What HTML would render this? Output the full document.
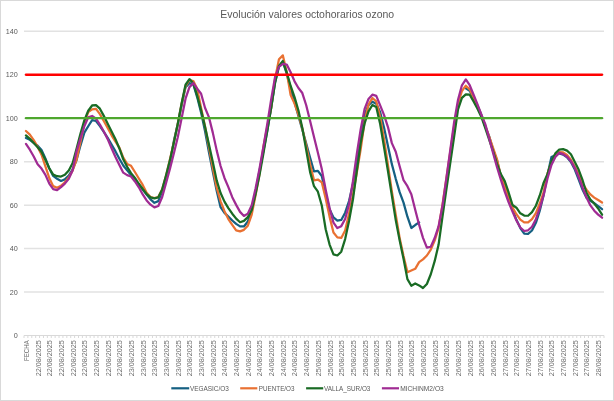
<!DOCTYPE html>
<html><head><meta charset="utf-8"><style>
html,body{margin:0;padding:0;background:#fff;}
svg{display:block;font-family:"Liberation Sans", sans-serif;}
text{filter:grayscale(1);}
</style></head><body>
<svg width="614" height="401" viewBox="0 0 614 401">
<rect x="0.5" y="0.5" width="613" height="400" fill="#fff" stroke="#d9d9d9" stroke-width="1"/>
<text x="220.3" y="17.8" font-size="10.4" textLength="173.8" lengthAdjust="spacingAndGlyphs" fill="#595959">Evolución valores octohorarios ozono</text>
<line x1="24.0" y1="292.04" x2="604.0" y2="292.04" stroke="#e2e2e2" stroke-width="1.5"/>
<line x1="24.0" y1="248.59" x2="604.0" y2="248.59" stroke="#e2e2e2" stroke-width="1.5"/>
<line x1="24.0" y1="205.13" x2="604.0" y2="205.13" stroke="#e2e2e2" stroke-width="1.5"/>
<line x1="24.0" y1="161.67" x2="604.0" y2="161.67" stroke="#e2e2e2" stroke-width="1.5"/>
<line x1="24.0" y1="118.21" x2="604.0" y2="118.21" stroke="#e2e2e2" stroke-width="1.5"/>
<line x1="24.0" y1="74.76" x2="604.0" y2="74.76" stroke="#e2e2e2" stroke-width="1.5"/>
<line x1="24.0" y1="31.3" x2="604.0" y2="31.3" stroke="#e2e2e2" stroke-width="1.5"/>
<text x="17.8" y="338.1" font-size="7.2" text-anchor="end" fill="#595959">0</text>
<text x="17.8" y="294.6" font-size="7.2" text-anchor="end" fill="#595959">20</text>
<text x="17.8" y="251.2" font-size="7.2" text-anchor="end" fill="#595959">40</text>
<text x="17.8" y="207.7" font-size="7.2" text-anchor="end" fill="#595959">60</text>
<text x="17.8" y="164.3" font-size="7.2" text-anchor="end" fill="#595959">80</text>
<text x="17.8" y="120.8" font-size="7.2" text-anchor="end" fill="#595959">100</text>
<text x="17.8" y="77.4" font-size="7.2" text-anchor="end" fill="#595959">120</text>
<text x="17.8" y="33.9" font-size="7.2" text-anchor="end" fill="#595959">140</text>
<line x1="24.0" y1="335.5" x2="604.0" y2="335.5" stroke="#d9d9d9" stroke-width="1"/>
<path d="M24.00 335.5v2.5 M27.89 335.5v2.5 M31.79 335.5v2.5 M35.68 335.5v2.5 M39.57 335.5v2.5 M43.46 335.5v2.5 M47.36 335.5v2.5 M51.25 335.5v2.5 M55.14 335.5v2.5 M59.03 335.5v2.5 M62.93 335.5v2.5 M66.82 335.5v2.5 M70.71 335.5v2.5 M74.60 335.5v2.5 M78.50 335.5v2.5 M82.39 335.5v2.5 M86.28 335.5v2.5 M90.17 335.5v2.5 M94.07 335.5v2.5 M97.96 335.5v2.5 M101.85 335.5v2.5 M105.74 335.5v2.5 M109.64 335.5v2.5 M113.53 335.5v2.5 M117.42 335.5v2.5 M121.32 335.5v2.5 M125.21 335.5v2.5 M129.10 335.5v2.5 M132.99 335.5v2.5 M136.89 335.5v2.5 M140.78 335.5v2.5 M144.67 335.5v2.5 M148.56 335.5v2.5 M152.46 335.5v2.5 M156.35 335.5v2.5 M160.24 335.5v2.5 M164.13 335.5v2.5 M168.03 335.5v2.5 M171.92 335.5v2.5 M175.81 335.5v2.5 M179.70 335.5v2.5 M183.60 335.5v2.5 M187.49 335.5v2.5 M191.38 335.5v2.5 M195.28 335.5v2.5 M199.17 335.5v2.5 M203.06 335.5v2.5 M206.95 335.5v2.5 M210.85 335.5v2.5 M214.74 335.5v2.5 M218.63 335.5v2.5 M222.52 335.5v2.5 M226.42 335.5v2.5 M230.31 335.5v2.5 M234.20 335.5v2.5 M238.09 335.5v2.5 M241.99 335.5v2.5 M245.88 335.5v2.5 M249.77 335.5v2.5 M253.66 335.5v2.5 M257.56 335.5v2.5 M261.45 335.5v2.5 M265.34 335.5v2.5 M269.23 335.5v2.5 M273.13 335.5v2.5 M277.02 335.5v2.5 M280.91 335.5v2.5 M284.81 335.5v2.5 M288.70 335.5v2.5 M292.59 335.5v2.5 M296.48 335.5v2.5 M300.38 335.5v2.5 M304.27 335.5v2.5 M308.16 335.5v2.5 M312.05 335.5v2.5 M315.95 335.5v2.5 M319.84 335.5v2.5 M323.73 335.5v2.5 M327.62 335.5v2.5 M331.52 335.5v2.5 M335.41 335.5v2.5 M339.30 335.5v2.5 M343.19 335.5v2.5 M347.09 335.5v2.5 M350.98 335.5v2.5 M354.87 335.5v2.5 M358.77 335.5v2.5 M362.66 335.5v2.5 M366.55 335.5v2.5 M370.44 335.5v2.5 M374.34 335.5v2.5 M378.23 335.5v2.5 M382.12 335.5v2.5 M386.01 335.5v2.5 M389.91 335.5v2.5 M393.80 335.5v2.5 M397.69 335.5v2.5 M401.58 335.5v2.5 M405.48 335.5v2.5 M409.37 335.5v2.5 M413.26 335.5v2.5 M417.15 335.5v2.5 M421.05 335.5v2.5 M424.94 335.5v2.5 M428.83 335.5v2.5 M432.72 335.5v2.5 M436.62 335.5v2.5 M440.51 335.5v2.5 M444.40 335.5v2.5 M448.30 335.5v2.5 M452.19 335.5v2.5 M456.08 335.5v2.5 M459.97 335.5v2.5 M463.87 335.5v2.5 M467.76 335.5v2.5 M471.65 335.5v2.5 M475.54 335.5v2.5 M479.44 335.5v2.5 M483.33 335.5v2.5 M487.22 335.5v2.5 M491.11 335.5v2.5 M495.01 335.5v2.5 M498.90 335.5v2.5 M502.79 335.5v2.5 M506.68 335.5v2.5 M510.58 335.5v2.5 M514.47 335.5v2.5 M518.36 335.5v2.5 M522.26 335.5v2.5 M526.15 335.5v2.5 M530.04 335.5v2.5 M533.93 335.5v2.5 M537.83 335.5v2.5 M541.72 335.5v2.5 M545.61 335.5v2.5 M549.50 335.5v2.5 M553.40 335.5v2.5 M557.29 335.5v2.5 M561.18 335.5v2.5 M565.07 335.5v2.5 M568.97 335.5v2.5 M572.86 335.5v2.5 M576.75 335.5v2.5 M580.64 335.5v2.5 M584.54 335.5v2.5 M588.43 335.5v2.5 M592.32 335.5v2.5 M596.21 335.5v2.5 M600.11 335.5v2.5 M604.00 335.5v2.5" stroke="#d9d9d9" stroke-width="1" fill="none"/>
<text transform="translate(28.90,340.3) rotate(-90)" font-size="7.5" text-anchor="end" textLength="20.6" lengthAdjust="spacingAndGlyphs" fill="#6e6e6e">FECHA</text>
<text transform="translate(40.57,340.3) rotate(-90)" font-size="7.5" text-anchor="end" textLength="35.9" lengthAdjust="spacingAndGlyphs" fill="#6e6e6e">22/08/2025</text>
<text transform="translate(52.25,340.3) rotate(-90)" font-size="7.5" text-anchor="end" textLength="35.9" lengthAdjust="spacingAndGlyphs" fill="#6e6e6e">22/08/2025</text>
<text transform="translate(63.93,340.3) rotate(-90)" font-size="7.5" text-anchor="end" textLength="35.9" lengthAdjust="spacingAndGlyphs" fill="#6e6e6e">22/08/2025</text>
<text transform="translate(75.61,340.3) rotate(-90)" font-size="7.5" text-anchor="end" textLength="35.9" lengthAdjust="spacingAndGlyphs" fill="#6e6e6e">22/08/2025</text>
<text transform="translate(87.29,340.3) rotate(-90)" font-size="7.5" text-anchor="end" textLength="35.9" lengthAdjust="spacingAndGlyphs" fill="#6e6e6e">22/08/2025</text>
<text transform="translate(98.96,340.3) rotate(-90)" font-size="7.5" text-anchor="end" textLength="35.9" lengthAdjust="spacingAndGlyphs" fill="#6e6e6e">22/08/2025</text>
<text transform="translate(110.64,340.3) rotate(-90)" font-size="7.5" text-anchor="end" textLength="35.9" lengthAdjust="spacingAndGlyphs" fill="#6e6e6e">22/08/2025</text>
<text transform="translate(122.32,340.3) rotate(-90)" font-size="7.5" text-anchor="end" textLength="35.9" lengthAdjust="spacingAndGlyphs" fill="#6e6e6e">22/08/2025</text>
<text transform="translate(134.00,340.3) rotate(-90)" font-size="7.5" text-anchor="end" textLength="35.9" lengthAdjust="spacingAndGlyphs" fill="#6e6e6e">23/08/2025</text>
<text transform="translate(145.67,340.3) rotate(-90)" font-size="7.5" text-anchor="end" textLength="35.9" lengthAdjust="spacingAndGlyphs" fill="#6e6e6e">23/08/2025</text>
<text transform="translate(157.35,340.3) rotate(-90)" font-size="7.5" text-anchor="end" textLength="35.9" lengthAdjust="spacingAndGlyphs" fill="#6e6e6e">23/08/2025</text>
<text transform="translate(169.03,340.3) rotate(-90)" font-size="7.5" text-anchor="end" textLength="35.9" lengthAdjust="spacingAndGlyphs" fill="#6e6e6e">23/08/2025</text>
<text transform="translate(180.71,340.3) rotate(-90)" font-size="7.5" text-anchor="end" textLength="35.9" lengthAdjust="spacingAndGlyphs" fill="#6e6e6e">23/08/2025</text>
<text transform="translate(192.39,340.3) rotate(-90)" font-size="7.5" text-anchor="end" textLength="35.9" lengthAdjust="spacingAndGlyphs" fill="#6e6e6e">23/08/2025</text>
<text transform="translate(204.06,340.3) rotate(-90)" font-size="7.5" text-anchor="end" textLength="35.9" lengthAdjust="spacingAndGlyphs" fill="#6e6e6e">23/08/2025</text>
<text transform="translate(215.74,340.3) rotate(-90)" font-size="7.5" text-anchor="end" textLength="35.9" lengthAdjust="spacingAndGlyphs" fill="#6e6e6e">23/08/2025</text>
<text transform="translate(227.42,340.3) rotate(-90)" font-size="7.5" text-anchor="end" textLength="35.9" lengthAdjust="spacingAndGlyphs" fill="#6e6e6e">24/08/2025</text>
<text transform="translate(239.10,340.3) rotate(-90)" font-size="7.5" text-anchor="end" textLength="35.9" lengthAdjust="spacingAndGlyphs" fill="#6e6e6e">24/08/2025</text>
<text transform="translate(250.78,340.3) rotate(-90)" font-size="7.5" text-anchor="end" textLength="35.9" lengthAdjust="spacingAndGlyphs" fill="#6e6e6e">24/08/2025</text>
<text transform="translate(262.45,340.3) rotate(-90)" font-size="7.5" text-anchor="end" textLength="35.9" lengthAdjust="spacingAndGlyphs" fill="#6e6e6e">24/08/2025</text>
<text transform="translate(274.13,340.3) rotate(-90)" font-size="7.5" text-anchor="end" textLength="35.9" lengthAdjust="spacingAndGlyphs" fill="#6e6e6e">24/08/2025</text>
<text transform="translate(285.81,340.3) rotate(-90)" font-size="7.5" text-anchor="end" textLength="35.9" lengthAdjust="spacingAndGlyphs" fill="#6e6e6e">24/08/2025</text>
<text transform="translate(297.49,340.3) rotate(-90)" font-size="7.5" text-anchor="end" textLength="35.9" lengthAdjust="spacingAndGlyphs" fill="#6e6e6e">24/08/2025</text>
<text transform="translate(309.16,340.3) rotate(-90)" font-size="7.5" text-anchor="end" textLength="35.9" lengthAdjust="spacingAndGlyphs" fill="#6e6e6e">24/08/2025</text>
<text transform="translate(320.84,340.3) rotate(-90)" font-size="7.5" text-anchor="end" textLength="35.9" lengthAdjust="spacingAndGlyphs" fill="#6e6e6e">25/08/2025</text>
<text transform="translate(332.52,340.3) rotate(-90)" font-size="7.5" text-anchor="end" textLength="35.9" lengthAdjust="spacingAndGlyphs" fill="#6e6e6e">25/08/2025</text>
<text transform="translate(344.20,340.3) rotate(-90)" font-size="7.5" text-anchor="end" textLength="35.9" lengthAdjust="spacingAndGlyphs" fill="#6e6e6e">25/08/2025</text>
<text transform="translate(355.88,340.3) rotate(-90)" font-size="7.5" text-anchor="end" textLength="35.9" lengthAdjust="spacingAndGlyphs" fill="#6e6e6e">25/08/2025</text>
<text transform="translate(367.55,340.3) rotate(-90)" font-size="7.5" text-anchor="end" textLength="35.9" lengthAdjust="spacingAndGlyphs" fill="#6e6e6e">25/08/2025</text>
<text transform="translate(379.23,340.3) rotate(-90)" font-size="7.5" text-anchor="end" textLength="35.9" lengthAdjust="spacingAndGlyphs" fill="#6e6e6e">25/08/2025</text>
<text transform="translate(390.91,340.3) rotate(-90)" font-size="7.5" text-anchor="end" textLength="35.9" lengthAdjust="spacingAndGlyphs" fill="#6e6e6e">25/08/2025</text>
<text transform="translate(402.59,340.3) rotate(-90)" font-size="7.5" text-anchor="end" textLength="35.9" lengthAdjust="spacingAndGlyphs" fill="#6e6e6e">25/08/2025</text>
<text transform="translate(414.27,340.3) rotate(-90)" font-size="7.5" text-anchor="end" textLength="35.9" lengthAdjust="spacingAndGlyphs" fill="#6e6e6e">26/08/2025</text>
<text transform="translate(425.94,340.3) rotate(-90)" font-size="7.5" text-anchor="end" textLength="35.9" lengthAdjust="spacingAndGlyphs" fill="#6e6e6e">26/08/2025</text>
<text transform="translate(437.62,340.3) rotate(-90)" font-size="7.5" text-anchor="end" textLength="35.9" lengthAdjust="spacingAndGlyphs" fill="#6e6e6e">26/08/2025</text>
<text transform="translate(449.30,340.3) rotate(-90)" font-size="7.5" text-anchor="end" textLength="35.9" lengthAdjust="spacingAndGlyphs" fill="#6e6e6e">26/08/2025</text>
<text transform="translate(460.98,340.3) rotate(-90)" font-size="7.5" text-anchor="end" textLength="35.9" lengthAdjust="spacingAndGlyphs" fill="#6e6e6e">26/08/2025</text>
<text transform="translate(472.65,340.3) rotate(-90)" font-size="7.5" text-anchor="end" textLength="35.9" lengthAdjust="spacingAndGlyphs" fill="#6e6e6e">26/08/2025</text>
<text transform="translate(484.33,340.3) rotate(-90)" font-size="7.5" text-anchor="end" textLength="35.9" lengthAdjust="spacingAndGlyphs" fill="#6e6e6e">26/08/2025</text>
<text transform="translate(496.01,340.3) rotate(-90)" font-size="7.5" text-anchor="end" textLength="35.9" lengthAdjust="spacingAndGlyphs" fill="#6e6e6e">26/08/2025</text>
<text transform="translate(507.69,340.3) rotate(-90)" font-size="7.5" text-anchor="end" textLength="35.9" lengthAdjust="spacingAndGlyphs" fill="#6e6e6e">27/08/2025</text>
<text transform="translate(519.37,340.3) rotate(-90)" font-size="7.5" text-anchor="end" textLength="35.9" lengthAdjust="spacingAndGlyphs" fill="#6e6e6e">27/08/2025</text>
<text transform="translate(531.04,340.3) rotate(-90)" font-size="7.5" text-anchor="end" textLength="35.9" lengthAdjust="spacingAndGlyphs" fill="#6e6e6e">27/08/2025</text>
<text transform="translate(542.72,340.3) rotate(-90)" font-size="7.5" text-anchor="end" textLength="35.9" lengthAdjust="spacingAndGlyphs" fill="#6e6e6e">27/08/2025</text>
<text transform="translate(554.40,340.3) rotate(-90)" font-size="7.5" text-anchor="end" textLength="35.9" lengthAdjust="spacingAndGlyphs" fill="#6e6e6e">27/08/2025</text>
<text transform="translate(566.08,340.3) rotate(-90)" font-size="7.5" text-anchor="end" textLength="35.9" lengthAdjust="spacingAndGlyphs" fill="#6e6e6e">27/08/2025</text>
<text transform="translate(577.76,340.3) rotate(-90)" font-size="7.5" text-anchor="end" textLength="35.9" lengthAdjust="spacingAndGlyphs" fill="#6e6e6e">27/08/2025</text>
<text transform="translate(589.43,340.3) rotate(-90)" font-size="7.5" text-anchor="end" textLength="35.9" lengthAdjust="spacingAndGlyphs" fill="#6e6e6e">27/08/2025</text>
<text transform="translate(601.11,340.3) rotate(-90)" font-size="7.5" text-anchor="end" textLength="35.9" lengthAdjust="spacingAndGlyphs" fill="#6e6e6e">28/08/2025</text>
<path d="M25.95 137.95 L29.84 139.85 L33.73 142.96 L37.62 145.75 L41.52 150.05 L45.41 158.52 L49.30 168.56 L53.19 175.93 L57.09 178.85 L60.98 180.97 L64.87 179.42 L68.77 175.64 L72.66 169.37 L76.55 159.96 L80.44 145.56 L84.34 132.68 L88.23 126.26 L92.12 120.18 L96.01 121.02 L99.91 126.16 L103.80 131.99 L107.69 137.86 L111.58 144.48 L115.48 151.40 L119.37 158.79 L123.26 165.54 L127.15 170.39 L131.05 175.03 L134.94 179.92 L138.83 184.78 L142.72 189.65 L146.62 194.54 L150.51 199.32 L154.40 202.82 L158.30 201.14 L162.19 191.29 L166.08 177.93 L169.97 162.29 L173.87 141.11 L177.76 124.28 L181.65 105.04 L185.54 87.12 L189.44 83.11 L193.33 84.35 L197.22 97.32 L201.11 112.63 L205.01 131.02 L208.90 152.09 L212.79 171.58 L216.68 190.71 L220.58 207.13 L224.47 212.83 L228.36 216.56 L232.26 220.51 L236.15 223.92 L240.04 226.36 L243.93 226.45 L247.83 221.47 L251.72 210.63 L255.61 191.90 L259.50 170.72 L263.40 150.95 L267.29 130.84 L271.18 107.67 L275.07 82.75 L278.97 66.61 L282.86 61.97 L286.75 73.75 L290.64 88.60 L294.54 102.22 L298.43 115.99 L302.32 129.78 L306.21 143.64 L310.11 157.85 L314.00 171.43 L317.89 170.83 L321.79 175.98 L325.68 193.54 L329.57 209.13 L333.46 217.47 L337.36 220.71 L341.25 219.92 L345.14 212.66 L349.03 201.00 L352.93 184.38 L356.82 163.59 L360.71 140.18 L364.60 114.56 L368.50 105.30 L372.39 101.65 L376.28 103.72 L380.17 112.17 L384.07 127.65 L387.96 146.01 L391.85 164.16 L395.74 178.83 L399.64 192.19 L403.53 202.62 L407.42 216.73 L411.32 227.99 L415.21 225.02 L419.10 222.37 M465.81 88.42 L469.70 90.85 L473.60 97.46 L477.49 105.72 L481.38 114.79 L485.28 126.66 L489.17 136.35 L493.06 149.96 L496.95 160.31 L500.85 176.01 L504.74 187.72 L508.63 198.72 L512.52 209.37 L516.42 219.77 L520.31 228.03 L524.20 233.60 L528.09 233.87 L531.99 230.52 L535.88 222.84 L539.77 210.74 L543.66 194.89 L547.56 174.53 L551.45 157.09 L555.34 155.17 L559.23 153.52 L563.13 154.68 L567.02 157.36 L570.91 162.05 L574.81 169.55 L578.70 179.62 L582.59 189.85 L586.48 197.80 L590.38 200.90 L594.27 203.27 L598.16 206.14 L602.05 209.20" stroke="#156082" stroke-width="2.25" fill="none" stroke-linejoin="round" stroke-linecap="round"/>
<path d="M25.95 130.97 L29.84 134.60 L33.73 140.19 L37.62 146.74 L41.52 154.73 L45.41 166.34 L49.30 178.03 L53.19 186.16 L57.09 187.79 L60.98 185.80 L64.87 182.32 L68.77 177.45 L72.66 170.43 L76.55 159.67 L80.44 141.93 L84.34 123.22 L88.23 112.07 L92.12 109.44 L96.01 108.87 L99.91 114.09 L103.80 120.98 L107.69 127.97 L111.58 135.31 L115.48 141.74 L119.37 147.62 L123.26 157.65 L127.15 163.95 L131.05 165.83 L134.94 172.00 L138.83 178.49 L142.72 184.91 L146.62 192.83 L150.51 197.02 L154.40 197.98 L158.30 197.00 L162.19 189.38 L166.08 175.45 L169.97 159.27 L173.87 142.30 L177.76 123.88 L181.65 103.56 L185.54 86.17 L189.44 80.13 L193.33 81.01 L197.22 89.10 L201.11 107.91 L205.01 126.15 L208.90 147.04 L212.79 167.90 L216.68 187.54 L220.58 201.29 L224.47 211.18 L228.36 219.12 L232.26 224.95 L236.15 230.41 L240.04 231.39 L243.93 229.84 L247.83 225.68 L251.72 214.62 L255.61 194.96 L259.50 174.07 L263.40 147.04 L267.29 126.61 L271.18 107.93 L275.07 78.71 L278.97 59.33 L282.86 55.38 L286.75 72.37 L290.64 95.04 L294.54 103.63 L298.43 114.72 L302.32 128.47 L306.21 145.63 L310.11 164.26 L314.00 180.29 L317.89 179.53 L321.79 182.30 L325.68 198.41 L329.57 216.63 L333.46 232.46 L337.36 237.37 L341.25 237.90 L345.14 230.50 L349.03 213.68 L352.93 195.10 L356.82 172.47 L360.71 149.04 L364.60 121.56 L368.50 104.51 L372.39 98.02 L376.28 101.46 L380.17 116.93 L384.07 139.56 L387.96 165.07 L391.85 191.48 L395.74 214.77 L399.64 237.87 L403.53 256.10 L407.42 272.25 L411.32 270.52 L415.21 268.82 L419.10 262.14 L422.99 259.41 L426.89 255.51 L430.78 249.55 L434.67 240.61 L438.56 228.06 L442.46 204.79 L446.35 178.64 L450.24 152.25 L454.13 125.91 L458.03 103.67 L461.92 91.02 L465.81 85.71 L469.70 89.35 L473.60 97.19 L477.49 106.08 L481.38 115.45 L485.28 125.81 L489.17 136.73 L493.06 147.75 L496.95 159.07 L500.85 175.94 L504.74 186.76 L508.63 197.52 L512.52 207.62 L516.42 214.20 L520.31 219.69 L524.20 222.32 L528.09 222.35 L531.99 219.09 L535.88 213.23 L539.77 203.50 L543.66 192.18 L547.56 173.38 L551.45 162.33 L555.34 156.12 L559.23 152.01 L563.13 152.34 L567.02 155.00 L570.91 159.77 L574.81 166.83 L578.70 174.50 L582.59 183.57 L586.48 189.65 L590.38 194.48 L594.27 197.60 L598.16 200.07 L602.05 202.55" stroke="#e97132" stroke-width="2.25" fill="none" stroke-linejoin="round" stroke-linecap="round"/>
<path d="M25.95 135.45 L29.84 138.78 L33.73 142.96 L37.62 147.24 L41.52 151.98 L45.41 159.79 L49.30 168.28 L53.19 174.62 L57.09 176.24 L60.98 176.58 L64.87 174.82 L68.77 170.43 L72.66 163.07 L76.55 148.77 L80.44 133.77 L84.34 120.41 L88.23 110.74 L92.12 105.47 L96.01 105.16 L99.91 108.70 L103.80 115.84 L107.69 123.64 L111.58 131.42 L115.48 139.24 L119.37 148.46 L123.26 159.25 L127.15 166.86 L131.05 173.16 L134.94 177.96 L138.83 183.76 L142.72 189.04 L146.62 194.04 L150.51 197.43 L154.40 198.35 L158.30 197.30 L162.19 189.39 L166.08 175.37 L169.97 160.14 L173.87 142.40 L177.76 123.93 L181.65 103.22 L185.54 84.74 L189.44 79.13 L193.33 83.34 L197.22 95.73 L201.11 110.25 L205.01 126.65 L208.90 144.21 L212.79 161.93 L216.68 180.37 L220.58 193.08 L224.47 201.64 L228.36 208.05 L232.26 213.72 L236.15 218.64 L240.04 222.22 L243.93 220.93 L247.83 217.14 L251.72 210.15 L255.61 193.83 L259.50 175.13 L263.40 153.56 L267.29 130.52 L271.18 107.70 L275.07 82.42 L278.97 65.85 L282.86 61.06 L286.75 72.68 L290.64 85.95 L294.54 97.03 L298.43 110.58 L302.32 127.88 L306.21 149.99 L310.11 172.14 L314.00 186.18 L317.89 191.72 L321.79 205.53 L325.68 229.22 L329.57 244.55 L333.46 254.38 L337.36 255.48 L341.25 251.69 L345.14 239.10 L349.03 220.93 L352.93 199.51 L356.82 170.94 L360.71 142.79 L364.60 123.28 L368.50 111.42 L372.39 104.99 L376.28 107.01 L380.17 124.00 L384.07 147.35 L387.96 171.01 L391.85 195.65 L395.74 220.10 L399.64 240.35 L403.53 258.83 L407.42 279.14 L411.32 285.70 L415.21 283.50 L419.10 285.39 L422.99 288.05 L426.89 283.96 L430.78 274.27 L434.67 261.17 L438.56 244.78 L442.46 216.74 L446.35 189.63 L450.24 163.13 L454.13 136.68 L458.03 109.27 L461.92 97.92 L465.81 94.42 L469.70 94.74 L473.60 101.41 L477.49 108.71 L481.38 116.98 L485.28 128.23 L489.17 139.67 L493.06 151.22 L496.95 163.62 L500.85 174.10 L504.74 181.10 L508.63 192.47 L512.52 205.04 L516.42 207.72 L520.31 213.30 L524.20 215.55 L528.09 215.75 L531.99 212.20 L535.88 205.73 L539.77 195.46 L543.66 182.67 L547.56 173.94 L551.45 161.32 L555.34 153.39 L559.23 149.57 L563.13 149.09 L567.02 150.66 L570.91 154.29 L574.81 161.94 L578.70 169.80 L582.59 180.22 L586.48 192.94 L590.38 199.56 L594.27 203.59 L598.16 208.51 L602.05 214.70" stroke="#196b24" stroke-width="2.25" fill="none" stroke-linejoin="round" stroke-linecap="round"/>
<path d="M25.95 143.93 L29.84 149.70 L33.73 156.51 L37.62 164.16 L41.52 168.60 L45.41 174.84 L49.30 183.52 L53.19 189.11 L57.09 190.13 L60.98 187.17 L64.87 183.58 L68.77 178.84 L72.66 170.30 L76.55 151.35 L80.44 138.38 L84.34 126.23 L88.23 117.35 L92.12 115.96 L96.01 118.64 L99.91 124.60 L103.80 131.56 L107.69 139.12 L111.58 148.19 L115.48 157.06 L119.37 164.99 L123.26 172.64 L127.15 175.11 L131.05 176.55 L134.94 181.46 L138.83 187.33 L142.72 194.43 L146.62 200.44 L150.51 204.64 L154.40 207.37 L158.30 206.05 L162.19 196.94 L166.08 183.00 L169.97 168.71 L173.87 153.22 L177.76 137.21 L181.65 118.15 L185.54 98.67 L189.44 87.15 L193.33 83.14 L197.22 88.69 L201.11 93.75 L205.01 107.75 L208.90 117.08 L212.79 132.62 L216.68 150.37 L220.58 166.01 L224.47 177.97 L228.36 187.14 L232.26 197.20 L236.15 204.87 L240.04 211.88 L243.93 215.93 L247.83 213.62 L251.72 205.14 L255.61 188.34 L259.50 168.78 L263.40 146.73 L267.29 124.06 L271.18 99.33 L275.07 76.93 L278.97 66.86 L282.86 63.91 L286.75 64.51 L290.64 72.31 L294.54 81.32 L298.43 88.00 L302.32 93.04 L306.21 105.23 L310.11 121.04 L314.00 136.90 L317.89 152.69 L321.79 169.11 L325.68 189.62 L329.57 208.00 L333.46 222.63 L337.36 228.09 L341.25 226.15 L345.14 218.92 L349.03 204.44 L352.93 181.17 L356.82 154.00 L360.71 129.12 L364.60 108.90 L368.50 98.98 L372.39 94.66 L376.28 95.88 L380.17 105.41 L384.07 115.20 L387.96 127.03 L391.85 143.13 L395.74 151.69 L399.64 166.19 L403.53 180.24 L407.42 186.14 L411.32 194.16 L415.21 209.75 L419.10 224.68 L422.99 237.81 L426.89 247.64 L430.78 246.75 L434.67 238.07 L438.56 226.35 L442.46 206.05 L446.35 178.42 L450.24 150.25 L454.13 122.09 L458.03 99.69 L461.92 85.31 L465.81 79.47 L469.70 85.22 L473.60 94.75 L477.49 104.32 L481.38 114.75 L485.28 124.15 L489.17 138.33 L493.06 152.90 L496.95 166.98 L500.85 179.60 L504.74 191.62 L508.63 202.25 L512.52 211.62 L516.42 220.53 L520.31 227.47 L524.20 231.00 L528.09 230.27 L531.99 226.77 L535.88 219.19 L539.77 208.20 L543.66 194.91 L547.56 178.22 L551.45 164.89 L555.34 157.02 L559.23 152.88 L563.13 154.18 L567.02 156.73 L570.91 161.16 L574.81 168.06 L578.70 177.15 L582.59 187.53 L586.48 197.32 L590.38 205.45 L594.27 210.69 L598.16 214.66 L602.05 217.72" stroke="#a02b93" stroke-width="2.25" fill="none" stroke-linejoin="round" stroke-linecap="round"/>
<line x1="25.95" y1="74.76" x2="602.05" y2="74.76" stroke="#ff0000" stroke-width="2.3" stroke-linecap="round"/>
<line x1="25.95" y1="118.21" x2="602.05" y2="118.21" stroke="#4ea72e" stroke-width="2.3" stroke-linecap="round"/>
<line x1="171.3" y1="388.3" x2="189.2" y2="388.3" stroke="#156082" stroke-width="2.2"/>
<text x="189.9" y="390.6" font-size="7" textLength="39.0" lengthAdjust="spacingAndGlyphs" fill="#595959">VEGASIC/O3</text>
<line x1="240.2" y1="388.3" x2="257.3" y2="388.3" stroke="#e97132" stroke-width="2.2"/>
<text x="258.8" y="390.6" font-size="7" textLength="35.7" lengthAdjust="spacingAndGlyphs" fill="#595959">PUENTE/O3</text>
<line x1="306.1" y1="388.3" x2="323.2" y2="388.3" stroke="#196b24" stroke-width="2.2"/>
<text x="324.0" y="390.6" font-size="7" textLength="46.4" lengthAdjust="spacingAndGlyphs" fill="#595959">VALLA_SUR/O3</text>
<line x1="381.9" y1="388.3" x2="399" y2="388.3" stroke="#a02b93" stroke-width="2.2"/>
<text x="400.2" y="390.6" font-size="7" textLength="43.6" lengthAdjust="spacingAndGlyphs" fill="#595959">MICHINM2/O3</text>
</svg>
</body></html>
